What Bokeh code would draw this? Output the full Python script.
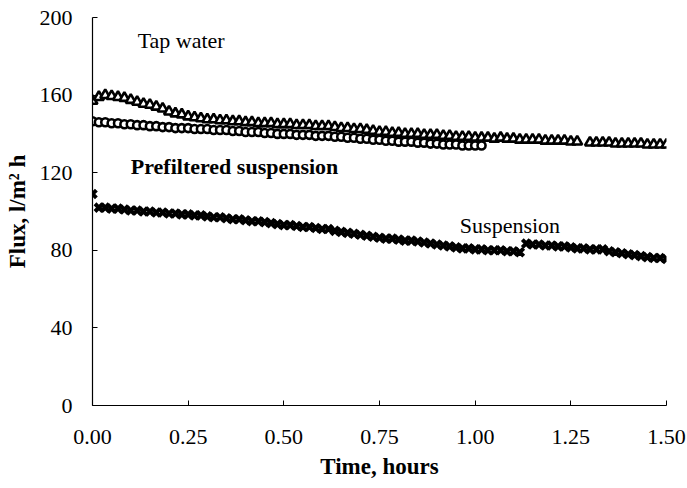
from bokeh.plotting import figure
from bokeh.models import Range1d, FixedTicker, NumeralTickFormatter, Label
from bokeh.embed import file_html
from bokeh.resources import INLINE

# time in minutes (converted to hours for plotting)
tap_minutes = [0, 1, 2, 3, 4, 5, 6, 7, 8, 9, 10, 11, 12, 13, 14, 15, 16, 17, 18, 19,
               20, 21, 22, 23, 24, 25, 26, 27, 28, 29, 30, 31, 32, 33, 34, 35, 36, 37, 38, 39,
               40, 41, 42, 43, 44, 45, 46, 47, 48, 49, 50, 51, 52, 53, 54, 55, 56, 57, 58, 59,
               60, 61, 62, 63, 64, 65, 66, 67, 68, 69, 70, 71, 72, 73, 74, 75, 76,
               78, 79, 80, 81, 82, 83, 84, 85, 86, 87, 88, 89, 90]
tap_flux = [157, 159, 160, 159.5, 159, 158.5, 157.5, 156.5, 155.5, 155, 154, 153, 151.5, 150.5, 150, 149, 148.5, 148, 147.5, 147.5,
            147, 147, 146.5, 146.5, 146, 146, 145.5, 145.5, 145.5, 145, 145, 145, 144.5, 144.5, 144.5, 144, 144, 144, 143.5, 143,
            143, 142.5, 142.5, 142, 141.5, 141, 141, 140.5, 140.5, 140, 140, 140, 139.5, 139.5, 139.5, 139, 139, 138.5, 138.5, 138.5,
            138, 138, 138, 137.5, 138, 137.5, 137.5, 137, 137, 137, 137, 136.5, 136.5, 136.5, 136.5, 136, 136,
            135.5, 135.5, 135.5, 135.5, 135, 135, 135, 135, 135, 134.5, 134.5, 134.5, 134.5]

pre_minutes = [0, 1, 2, 3, 4, 5, 6, 7, 8, 9, 10, 11, 12, 13, 14, 15, 16, 17, 18, 19,
               20, 21, 22, 23, 24, 25, 26, 27, 28, 29, 30, 31, 32, 33, 34, 35, 36, 37, 38, 39,
               40, 41, 42, 43, 44, 45, 46, 47, 48, 49, 50, 51, 52, 53, 54, 55, 56, 57, 58, 59,
               60, 61]
pre_flux = [146.5, 146, 146, 145.5, 145.5, 145, 145, 144.5, 144.5, 144, 144, 143.5, 143.5, 143, 143, 143, 142.5, 142.5, 142.5, 142,
            142, 142, 141.5, 141.5, 141, 141, 141, 140.5, 140.5, 140, 140, 140, 139.5, 139.5, 139.5, 139, 139, 139, 138.5, 138.5,
            138, 138, 137.5, 137.5, 137, 137, 136.5, 136.5, 136, 136, 136, 135.5, 135.5, 135, 135, 134.5, 134.5, 134.5, 134, 134,
            134, 134]

sus_minutes = [0, 1, 2, 3, 4, 5, 6, 7, 8, 9, 10, 11, 12, 13, 14, 15, 16, 17, 18, 19,
               20, 21, 22, 23, 24, 25, 26, 27, 28, 29, 30, 31, 32, 33, 34, 35, 36, 37, 38, 39,
               40, 41, 42, 43, 44, 45, 46, 47, 48, 49, 50, 51, 52, 53, 54, 55, 56, 57, 58, 59,
               60, 61, 62, 63, 64, 65, 66, 67, 68, 69, 70, 71, 72, 73, 74, 75, 76, 77, 78, 79,
               80, 81, 82, 83, 84, 85, 86, 87, 88, 89, 90]
sus_flux = [109, 102, 102, 101.5, 101.5, 101, 100.5, 100.5, 100, 100, 99.5, 99.5, 99, 99, 98.5, 98.5, 98, 98, 97.5, 97,
            97, 96.5, 96, 96, 95.5, 95, 95, 94.5, 94, 93.5, 93, 93, 92.5, 92, 92, 91.5, 91, 91, 90, 89.5,
            89, 88.5, 88, 87.5, 87, 86.5, 86, 86, 85.5, 85, 85, 84.5, 84, 83.5, 83, 82.5, 82, 81.5, 81, 81,
            80.5, 80.5, 80, 80, 80, 79.5, 79.5, 79, 83.5, 83, 83, 82.5, 82.5, 82, 82, 81.5, 81, 81, 80.5, 80.5,
            80.5, 79.5, 79, 78.5, 78, 77.5, 77, 76.5, 76, 76, 75.5]

x_ticks = [0.0, 0.25, 0.5, 0.75, 1.0, 1.25, 1.5]
y_ticks = [0, 40, 80, 120, 160, 200]

tap_x = [m / 60 for m in tap_minutes]
pre_x = [m / 60 for m in pre_minutes]
sus_x = [m / 60 for m in sus_minutes]

FONT = "Liberation Serif"

p = figure(width=687, height=488, output_backend="svg", toolbar_location=None,
           x_range=Range1d(0, 1.5), y_range=Range1d(0, 200),
           min_border_left=92, min_border_right=21, min_border_top=17, min_border_bottom=83)
p.outline_line_color = None
p.xgrid.visible = False
p.ygrid.visible = False
p.background_fill_color = "white"

p.scatter(tap_x, tap_flux, marker="triangle", size=10, fill_color="white",
          line_color="black", line_width=2.6)
p.scatter(pre_x, pre_flux, marker="circle", size=8, fill_color="white",
          line_color="black", line_width=2.6)
p.scatter(sus_x, sus_flux, marker="x", size=11, line_color="black", line_width=4)

for ax in (p.xaxis[0], p.yaxis[0]):
    ax.axis_line_color = "black"
    ax.axis_line_width = 1.2
    ax.major_tick_in = 5
    ax.major_tick_out = 0
    ax.minor_tick_line_color = None
    ax.major_tick_line_color = "black"
    ax.major_label_text_font = FONT
    ax.major_label_text_font_size = "22px"
    ax.major_label_text_color = "black"
    ax.axis_label_text_font = FONT
    ax.axis_label_text_font_style = "bold"
    ax.axis_label_text_font_size = "23px"
    ax.axis_label_text_color = "black"

p.xaxis.ticker = FixedTicker(ticks=x_ticks)
p.xaxis.formatter = NumeralTickFormatter(format="0.00")
p.xaxis.major_label_standoff = 24
p.xaxis.axis_label = "Time, hours"
p.xaxis.axis_label_standoff = 7

p.yaxis.ticker = FixedTicker(ticks=y_ticks)
p.yaxis.major_label_standoff = 20
p.yaxis.axis_label = "Flux, l/m\u00b2 h"
p.yaxis.axis_label_standoff = 7

p.add_layout(Label(x=0.118, y=188, text="Tap water", text_font=FONT, text_font_size="22px",
                   text_baseline="middle", text_color="black"))
p.add_layout(Label(x=0.10, y=123, text="Prefiltered suspension", text_font=FONT,
                   text_font_size="22px", text_font_style="bold",
                   text_baseline="middle", text_color="black"))
p.add_layout(Label(x=0.96, y=93, text="Suspension", text_font=FONT, text_font_size="22px",
                   text_baseline="middle", text_color="black"))

open("out.html", "w").write(file_html(p, INLINE))
